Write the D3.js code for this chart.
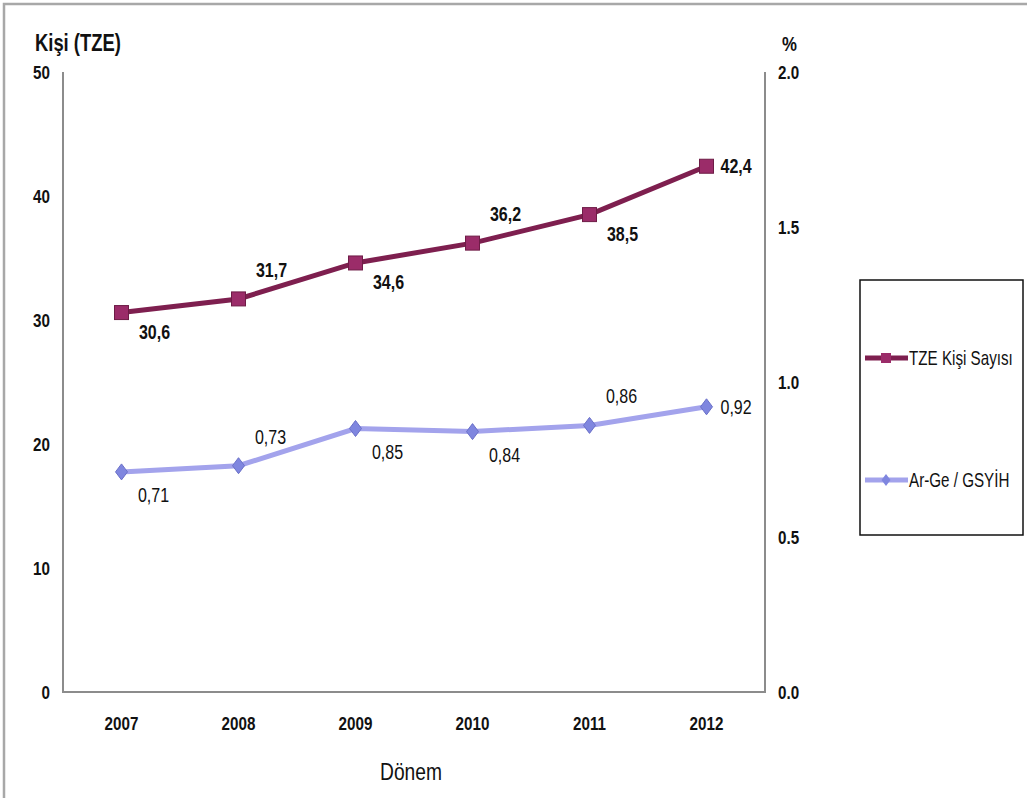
<!DOCTYPE html>
<html>
<head>
<meta charset="utf-8">
<script src="https://cdn.jsdelivr.net/npm/d3@7"></script>
<style>
  body { margin: 0; background: #fff; }
  text { font-family: "Liberation Sans", Arial, sans-serif; fill: #111; }
</style>
</head>
<body>
<svg id="chart"></svg>
<script>
const years = ["2007", "2008", "2009", "2010", "2011", "2012"];
const tzeValues = [30.6, 31.7, 34.6, 36.2, 38.5, 42.4];
const argeValues = [0.71, 0.73, 0.85, 0.84, 0.86, 0.92];
const tzeLabels = ["30,6", "31,7", "34,6", "36,2", "38,5", "42,4"];
const argeLabels = ["0,71", "0,73", "0,85", "0,84", "0,86", "0,92"];
const leftTicks = [0, 10, 20, 30, 40, 50];
const rightTicks = [0, 0.5, 1.0, 1.5, 2.0];
// label placement: above (-1), below (+1), right (0)
const tzePos = [1, -1, 1, -1, 1, 0];
const argePos = [1, -1, 1, 1, -1, 0];

const width = 1027, height = 798;
const plotLeft = 63, plotRight = 765, plotTop = 72, plotBottom = 692;
const squeeze = 0.8; // narrow font look

const svg = d3.select("#chart").attr("width", width).attr("height", height);

// place a text with a horizontally condensed look
const at = (fx, fy) => (d, i) => {
  const px = typeof fx === "function" ? fx(d, i) : fx;
  const py = typeof fy === "function" ? fy(d, i) : fy;
  return `translate(${px},${py}) scale(${squeeze},1)`;
};

// outer frame
svg.append("rect")
  .attr("x", 4).attr("y", 4)
  .attr("width", width + 10).attr("height", height + 10)
  .attr("fill", "none").attr("stroke", "#a8a8a8").attr("stroke-width", 2.5);

const x = d3.scalePoint().domain(years).range([plotLeft, plotRight]).padding(0.5);
const yL = d3.scaleLinear().domain([0, 50]).range([plotBottom, plotTop]);
const yR = d3.scaleLinear().domain([0, 2]).range([plotBottom, plotTop]);

// axis lines
svg.append("path")
  .attr("d", `M${plotLeft},${plotTop}V${plotBottom}H${plotRight}V${plotTop}`)
  .attr("fill", "none").attr("stroke", "#8c8c8c").attr("stroke-width", 2);

// left ticks
svg.append("g").selectAll("text").data(leftTicks).enter().append("text")
  .attr("transform", at(50, d => yL(d) + 7))
  .attr("text-anchor", "end")
  .attr("font-size", 19).attr("font-weight", "bold")
  .text(d => d);

// right ticks
svg.append("g").selectAll("text").data(rightTicks).enter().append("text")
  .attr("transform", at(778, d => yR(d) + 7))
  .attr("font-size", 19).attr("font-weight", "bold")
  .text(d => d.toFixed(1));

// x ticks
svg.append("g").selectAll("text").data(years).enter().append("text")
  .attr("transform", at(d => x(d), 730))
  .attr("text-anchor", "middle")
  .attr("font-size", 19).attr("font-weight", "bold")
  .text(d => d);

svg.append("text").attr("transform", at(35, 51)())
  .attr("font-size", 23).attr("font-weight", "bold").text("Kişi (TZE)");
svg.append("text").attr("transform", at(782, 51)())
  .attr("font-size", 21).attr("font-weight", "bold").text("%");
svg.append("text").attr("transform", at(411, 780)())
  .attr("text-anchor", "middle").attr("font-size", 24).text("Dönem");

const tzeLine = "#7e1f4f", tzeMark = "#9b2c69";
const argeLine = "#a3a3ec", argeMark = "#7f86df";

// TZE series
svg.append("path")
  .datum(tzeValues)
  .attr("d", d3.line().x((d, i) => x(years[i])).y(d => yL(d)))
  .attr("fill", "none").attr("stroke", tzeLine).attr("stroke-width", 5);
svg.append("g").selectAll("rect").data(tzeValues).enter().append("rect")
  .attr("x", (d, i) => x(years[i]) - 7).attr("y", d => yL(d) - 7)
  .attr("width", 14).attr("height", 14)
  .attr("fill", tzeMark).attr("stroke", "#6e1c46").attr("stroke-width", 1);

// Ar-Ge series
svg.append("path")
  .datum(argeValues)
  .attr("d", d3.line().x((d, i) => x(years[i])).y(d => yR(d)))
  .attr("fill", "none").attr("stroke", argeLine).attr("stroke-width", 5);
const diamond = "M0,-8L6,0L0,8L-6,0Z";
svg.append("g").selectAll("path").data(argeValues).enter().append("path")
  .attr("d", diamond)
  .attr("transform", (d, i) => `translate(${x(years[i])},${yR(d)})`)
  .attr("fill", argeMark).attr("stroke", "#6a70c8").attr("stroke-width", 1);

// data labels
svg.append("g").selectAll("text").data(tzeValues).enter().append("text")
  .attr("transform", at(
    (d, i) => tzePos[i] === 0 ? x(years[i]) + 14 : x(years[i]) + 33,
    (d, i) => yL(d) + (tzePos[i] === 0 ? 7 : tzePos[i] > 0 ? 26 : -22)))
  .attr("text-anchor", (d, i) => tzePos[i] === 0 ? "start" : "middle")
  .attr("font-size", 20).attr("font-weight", "bold")
  .text((d, i) => tzeLabels[i]);

svg.append("g").selectAll("text").data(argeValues).enter().append("text")
  .attr("transform", at(
    (d, i) => argePos[i] === 0 ? x(years[i]) + 14 : x(years[i]) + 32,
    (d, i) => yR(d) + (argePos[i] === 0 ? 7 : argePos[i] > 0 ? 30 : -22)))
  .attr("text-anchor", (d, i) => argePos[i] === 0 ? "start" : "middle")
  .attr("font-size", 20)
  .text((d, i) => argeLabels[i]);

// legend
const lg = svg.append("g");
lg.append("rect").attr("x", 860).attr("y", 280).attr("width", 163).attr("height", 255)
  .attr("fill", "#fff").attr("stroke", "#111").attr("stroke-width", 1.5);
const legendItems = [
  { name: "TZE Kişi Sayısı", y: 358, line: tzeLine, mark: tzeMark, shape: "square" },
  { name: "Ar-Ge / GSYİH", y: 480, line: argeLine, mark: argeMark, shape: "diamond" }
];
legendItems.forEach(it => {
  lg.append("line").attr("x1", 865).attr("x2", 908).attr("y1", it.y).attr("y2", it.y)
    .attr("stroke", it.line).attr("stroke-width", 5);
  if (it.shape === "square") {
    lg.append("rect").attr("x", 881).attr("y", it.y - 5).attr("width", 10).attr("height", 10)
      .attr("fill", it.mark);
  } else {
    lg.append("path").attr("d", "M0,-6L4.5,0L0,6L-4.5,0Z")
      .attr("transform", `translate(886,${it.y})`).attr("fill", it.mark);
  }
  lg.append("text").attr("transform", `translate(909,${it.y + 7}) scale(0.76,1)`)
    .attr("font-size", 20).text(it.name);
});
</script>
</body>
</html>
